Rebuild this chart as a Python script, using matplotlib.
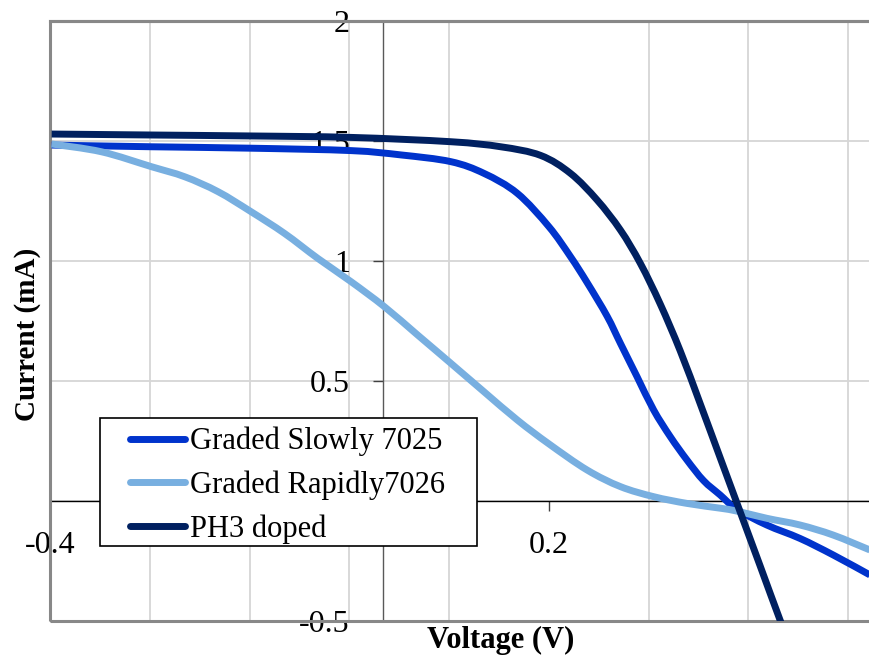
import numpy as np
import matplotlib
matplotlib.use("Agg")
import matplotlib.pyplot as plt
from matplotlib.patches import Rectangle, PathPatch
from matplotlib.path import Path
from matplotlib.lines import Line2D

# Series (voltage in V, current in mA)
volt_slow = [-0.398, -0.278, -0.158, -0.038, 0.022, 0.082, 0.122, 0.162, 0.2, 0.226,
             0.246, 0.27, 0.286, 0.306, 0.326, 0.346, 0.366, 0.386, 0.406, 0.426,
             0.462, 0.502, 0.542, 0.586]
curr_slow = [1.483, 1.476, 1.47, 1.46, 1.442, 1.414, 1.365, 1.282, 1.143, 1.018,
             0.91, 0.77, 0.657, 0.518, 0.379, 0.268, 0.171, 0.085, 0.025, -0.035,
             -0.1, -0.156, -0.225, -0.308]

volt_rapid = [-0.398, -0.338, -0.278, -0.238, -0.198, -0.158, -0.118, -0.078, -0.038, 0.002,
              0.042, 0.082, 0.122, 0.162, 0.2, 0.246, 0.286, 0.326, 0.366, 0.406,
              0.426, 0.462, 0.502, 0.542, 0.586]
curr_rapid = [1.4875, 1.455, 1.393, 1.351, 1.289, 1.205, 1.115, 1.011, 0.914, 0.81,
              0.692, 0.574, 0.455, 0.3375, 0.238, 0.129, 0.06, 0.018, -0.01, -0.03,
              -0.042, -0.072, -0.1, -0.142, -0.204]

volt_ph3 = [-0.398, -0.278, -0.158, -0.038, 0.082, 0.142, 0.19, 0.226, 0.258,
            0.286, 0.31, 0.334, 0.358, 0.382, 0.406, 0.43, 0.454, 0.478, 0.49]
curr_ph3 = [1.529, 1.525, 1.521, 1.515, 1.497, 1.476, 1.44, 1.365, 1.254,
            1.129, 0.99, 0.82, 0.625, 0.405, 0.18, -0.045, -0.27, -0.496, -0.6]

labels = ["Graded Slowly 7025", "Graded Rapidly7026", "PH3 doped"]
colors = ["#0033CC", "#78AFE0", "#002060"]

x_major = [-0.4, 0.2]
y_major = [-0.5, 0, 0.5, 1, 1.5, 2]
# the "0" label sits under the legend box in the original, so it stays empty
y_ticklabels = ['-0.5', '', '0.5', '1', '1.5', '2']

plt.rcParams['font.family'] = ['Liberation Serif', 'DejaVu Serif']
plt.rcParams['axes.unicode_minus'] = False


# smoothed line through the points (like Excel's "smoothed line" option)
def smooth_path(xs, ys):
    p = np.column_stack([xs, ys])
    ext = np.vstack([p[0], p, p[-1]])
    verts = [p[0]]
    codes = [Path.MOVETO]
    for i in range(len(p) - 1):
        p0, p1, p2, p3 = ext[i], ext[i + 1], ext[i + 2], ext[i + 3]
        verts += [p1 + (p2 - p0) / 6, p2 - (p3 - p1) / 6, p2]
        codes += [Path.CURVE4] * 3
    return Path(verts, codes)


fig = plt.figure(figsize=(8.7, 6.58), dpi=100)
ax = fig.add_axes([50 / 870, 37 / 658, 831.5 / 870, 600 / 658])

handles = []
for v, c, lab, col in zip([volt_slow, volt_rapid, volt_ph3],
                          [curr_slow, curr_rapid, curr_ph3], labels, colors):
    ax.add_patch(PathPatch(smooth_path(v, c), fill=False, ec=col, lw=5,
                           capstyle='butt', joinstyle='round', zorder=3))
    handles.append(Line2D([], [], color=col, lw=5, solid_capstyle='round', label=lab))

ax.set_xlim(-0.4, 0.6)
ax.set_ylim(-0.5, 2)

# axes cross at zero
ax.spines['left'].set_position(('data', 0))
ax.spines['bottom'].set_position(('data', 0))
ax.spines['left'].set_color('#595959')
ax.spines['left'].set_linewidth(1)
ax.spines['bottom'].set_color('black')
ax.spines['bottom'].set_linewidth(1)
ax.spines['top'].set_color('#888888')
ax.spines['top'].set_linewidth(2.2)
ax.spines['right'].set_visible(False)

# gray plot-area frame
ax.add_patch(Rectangle((0, 0), 1, 1, transform=ax.transAxes, fill=False,
                       ec='#888888', lw=2.2, clip_on=False, zorder=2.6))

ax.set_xticks(x_major)
ax.set_xticklabels(['-0.4', '0.2'])
ax.set_xticks(np.arange(-0.4, 0.61, 0.12), minor=True)
ax.set_yticks(y_major)
ax.set_yticklabels(y_ticklabels)

ax.tick_params(axis='x', which='major', direction='out', length=7.5, width=1,
               labelsize=23, pad=14, color='#404040')
ax.tick_params(axis='x', which='minor', length=0)
ax.tick_params(axis='y', which='major', direction='out', length=7.5, width=1,
               labelsize=23, pad=16, color='#404040')

ax.grid(which='minor', axis='x', color='#d6d6d6', lw=1.3)
ax.grid(which='major', axis='y', color='#d6d6d6', lw=1.3)
ax.set_axisbelow(True)

ax.set_xlabel("Voltage (V)", fontsize=22, fontweight='bold', va='center')
ax.xaxis.set_label_coords((501 - 50) / 831.5, (621 - 640) / 600)
ax.set_ylabel("Current (mA)", fontsize=21, fontweight='bold', va='center')
ax.yaxis.set_label_coords((28 - 50) / 831.5, (621 - 334) / 600)

# legend box (white, black border) with the legend entries on top
ax.add_patch(Rectangle((100 / 870, 1 - 546 / 658), 377 / 870, 128 / 658,
                       transform=fig.transFigure, fc='white', ec='black',
                       lw=1.2, clip_on=False, zorder=4.9))
leg = ax.legend(handles=handles, loc='upper left',
                bbox_to_anchor=(130 / 870, 1 - 427 / 658),
                bbox_transform=fig.transFigure, borderaxespad=0, borderpad=0,
                fontsize=22, frameon=False, handlelength=1.8,
                handletextpad=0.16, labelspacing=0.46)
leg.set_zorder(5)

fig.savefig("out.png", dpi=100)
